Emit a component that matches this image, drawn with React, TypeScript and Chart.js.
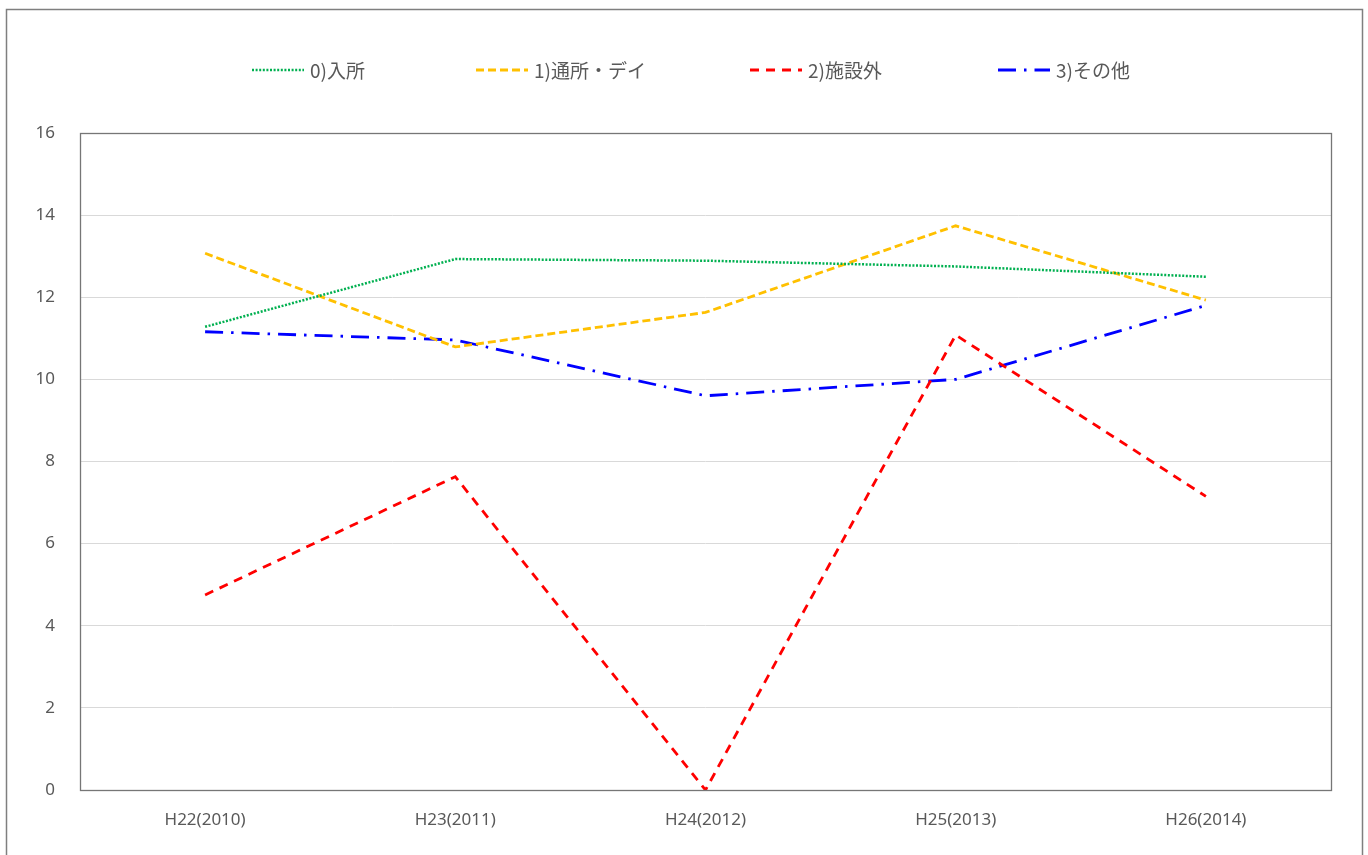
import React, { useEffect, useRef } from "react";
import { Chart, registerables } from "chart.js";

Chart.register(...registerables);

const categories = ["H22(2010)", "H23(2011)", "H24(2012)", "H25(2013)", "H26(2014)"];
const seriesLabels = ["0)入所", "1)通所・デイ", "2)施設外", "3)その他"];
const nyusho = [11.28, 12.93, 12.89, 12.75, 12.5];
const tsusho = [13.07, 10.79, 11.63, 13.74, 11.93];
const shisetsugai = [4.75, 7.63, 0, 11.08, 7.15];
const sonota = [11.16, 10.96, 9.6, 10.0, 11.8];
const yTicks = [0, 2, 4, 6, 8, 10, 12, 14, 16];

const FONT = '"Noto Sans", "Noto Sans CJK JP", sans-serif';
const JP_FONT = '"Noto Sans CJK JP", "Noto Sans", sans-serif';

const legendLineStarts = [252, 476, 750, 998];

const framePlugin = {
  id: "framePlugin",
  afterDraw(chart: any) {
    const ctx = chart.ctx;
    const a = chart.chartArea;
    ctx.save();
    // plot area frame
    ctx.strokeStyle = "#767676";
    ctx.lineWidth = 1.3;
    ctx.setLineDash([]);
    ctx.strokeRect(Math.round(a.left) + 0.5, Math.round(a.top) + 0.5, Math.round(a.right - a.left), Math.round(a.bottom - a.top));
    // outer frame
    ctx.strokeStyle = "#7f7f7f";
    ctx.lineWidth = 1.5;
    ctx.strokeRect(6.5, 9.5, 1356, 900);
    // legend
    const y = 70;
    chart.data.datasets.forEach((ds: any, i: number) => {
      const x0 = legendLineStarts[i];
      ctx.beginPath();
      ctx.strokeStyle = ds.borderColor;
      ctx.lineWidth = ds.borderWidth;
      ctx.setLineDash(ds.borderDash || []);
      ctx.lineCap = "butt";
      ctx.moveTo(x0, y);
      ctx.lineTo(x0 + 52, y);
      ctx.stroke();
      ctx.setLineDash([]);
      ctx.font = "19px " + JP_FONT;
      ctx.fillStyle = "#595959";
      ctx.textBaseline = "middle";
      ctx.textAlign = "left";
      ctx.fillText(ds.label, x0 + 58, y + 1);
    });
    ctx.restore();
  },
};

export default function App() {
  const ref = useRef<HTMLCanvasElement | null>(null);
  useEffect(() => {
    if (!ref.current) return;
    const chart = new Chart(ref.current, {
      type: "line",
      data: {
        labels: categories,
        datasets: [
          { label: seriesLabels[0], data: nyusho, borderColor: "#00b050", backgroundColor: "#00b050", borderWidth: 2.5, borderDash: [2, 1.6] },
          { label: seriesLabels[1], data: tsusho, borderColor: "#ffc000", backgroundColor: "#ffc000", borderWidth: 2.8, borderDash: [8, 4] },
          { label: seriesLabels[2], data: shisetsugai, borderColor: "#ff0000", backgroundColor: "#ff0000", borderWidth: 2.8, borderDash: [9, 7] },
          { label: seriesLabels[3], data: sonota, borderColor: "#0000ff", backgroundColor: "#0000ff", borderWidth: 2.8, borderDash: [18, 8, 2.5, 8] },
        ],
      },
      options: {
        responsive: false,
        animation: false,
        layout: { padding: { top: 133, left: 0, right: 37, bottom: 0 } },
        elements: { point: { radius: 0 }, line: { tension: 0, fill: false } },
        plugins: { legend: { display: false }, tooltip: { enabled: false } },
        scales: {
          x: {
            offset: true,
            grid: { display: false, drawTicks: false },
            border: { display: false },
            ticks: { color: "#595959", font: { family: FONT, size: 17 }, padding: 20, maxRotation: 0 },
            afterFit: (s: any) => { s.height = 65; },
          },
          y: {
            min: 0,
            max: 16,
            afterBuildTicks: (s: any) => { s.ticks = yTicks.map((v) => ({ value: v })); },
            grid: { color: "#d9d9d9", lineWidth: 1, drawTicks: false },
            border: { display: false },
            ticks: { color: "#595959", font: { family: FONT, size: 17 }, padding: 25 },
            afterFit: (s: any) => { s.width = 80; },
          },
        },
      },
      plugins: [framePlugin],
    });
    return () => chart.destroy();
  }, []);
  return (
    <div style={{ position: "fixed", left: 0, top: 0, width: 1368, height: 855, background: "#fff" }}>
      <canvas ref={ref} width={1368} height={855} />
    </div>
  );
}
